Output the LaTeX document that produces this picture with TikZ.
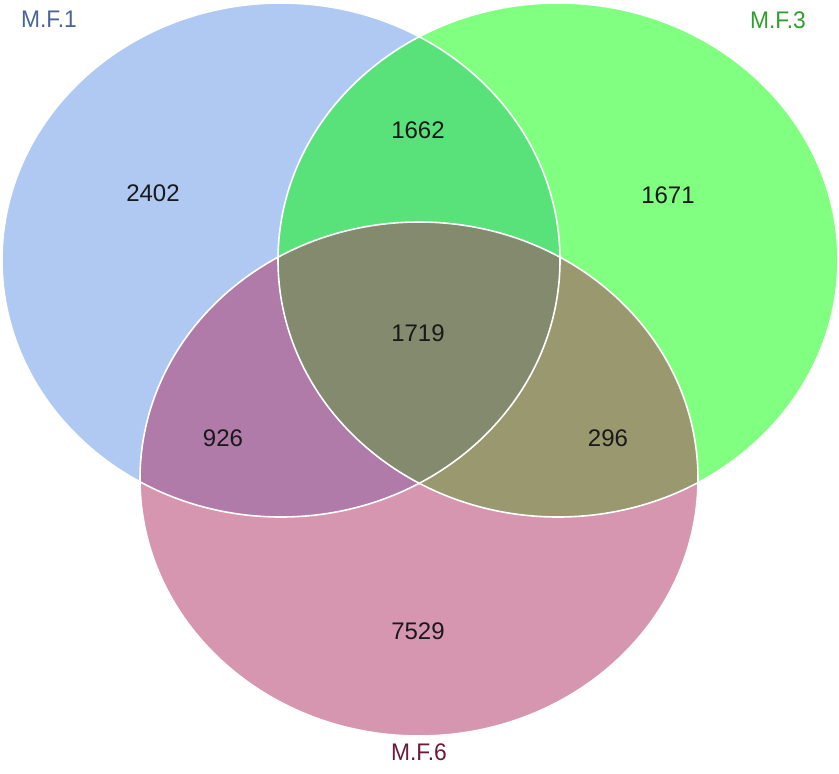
\documentclass[tikz,border=0pt]{standalone}
\usepackage{fontspec}
\setmainfont{Liberation Sans}
\definecolor{cA}{HTML}{AFC9F3}
\definecolor{cB}{HTML}{80FF80}
\definecolor{cC}{HTML}{D796AF}
\definecolor{cAB}{HTML}{5AE27A}
\definecolor{cAC}{HTML}{B07AA9}
\definecolor{cBC}{HTML}{9A986F}
\definecolor{cABC}{HTML}{838A6D}
\definecolor{lA}{HTML}{4A6496}
\definecolor{lB}{HTML}{2BA02B}
\definecolor{lC}{HTML}{6B1A3A}
\tikzset{
  num/.style={font=\fontsize{24}{28}\selectfont, text=black!90},
  setlabel/.style={font=\fontsize{24}{28}\selectfont, xscale=0.95},
  outline/.style={draw=white, line width=1.6pt}
}
\def\ellA{(281,260) ellipse [x radius=279, y radius=257]}
\def\ellB{(558,260) ellipse [x radius=280, y radius=257]}
\def\ellC{(419,479) ellipse [x radius=279, y radius=257]}
\begin{document}
\begin{tikzpicture}[x=1pt,y=-1pt]
\useasboundingbox (0,0) rectangle (839,774);
\fill[cA] \ellA;
\fill[cB] \ellB;
\fill[cC] \ellC;
\begin{scope}
  \clip \ellA;
  \fill[cAB] \ellB;
  \fill[cAC] \ellC;
  \clip \ellB;
  \fill[cABC] \ellC;
\end{scope}
\begin{scope}
  \clip \ellB;
  \clip \ellC;
  \begin{scope}[even odd rule]
    \clip \ellA (0,0) rectangle (839,774);
    \fill[cBC] (0,0) rectangle (839,774);
  \end{scope}
\end{scope}
\draw[outline] \ellA;
\draw[outline] \ellB;
\draw[outline] \ellC;
\node[setlabel, text=lA] (l1) at (49,19) {M.F.1};
\node[setlabel, text=lB] (l3) at (778,20) {M.F.3};
\node[setlabel, text=lC] (l6) at (419,752) {M.F.6};
\node[num] (n1) at (153,193) {2402};
\node[num] (n2) at (418,130) {1662};
\node[num] (n3) at (668,195) {1671};
\node[num] (n4) at (418,333) {1719};
\node[num] (n5) at (223,438) {926};
\node[num] (n6) at (608,438) {296};
\node[num] (n7) at (418,631) {7529};
\end{tikzpicture}
\end{document}
